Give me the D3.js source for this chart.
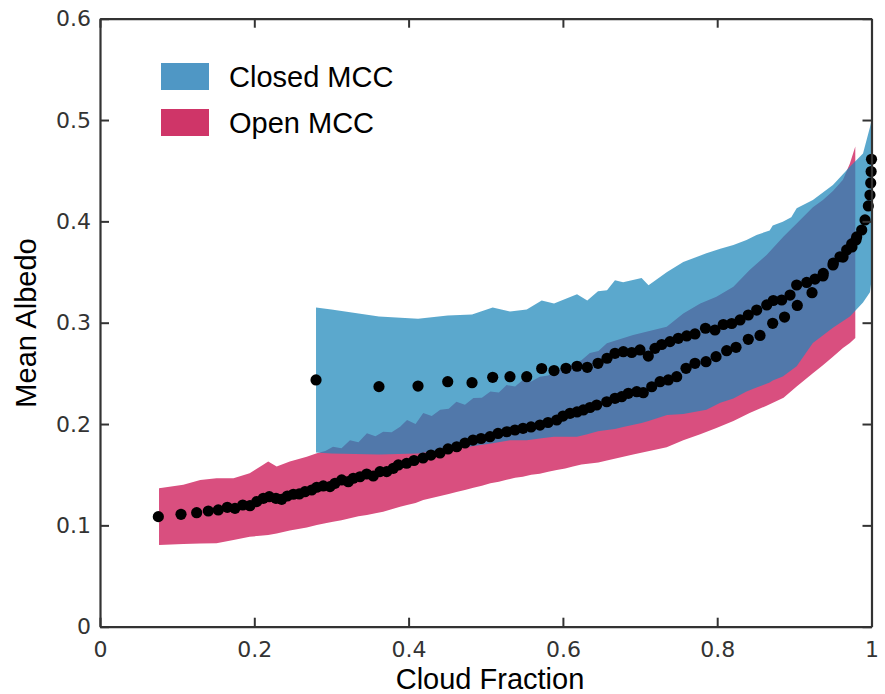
<!DOCTYPE html>
<html><head><meta charset="utf-8">
<script src="https://cdn.jsdelivr.net/npm/d3@7"></script>
<style>body{margin:0;background:#fff}svg{display:block}</style>
</head><body>
<svg id="c" width="885" height="694"></svg>
<script>
// ---------- data ----------
const xTicks = [0, 0.2, 0.4, 0.6, 0.8, 1];
const xTickLabels = ["0", "0.2", "0.4", "0.6", "0.8", "1"];
const yTicks = [0, 0.1, 0.2, 0.3, 0.4, 0.5, 0.6];
const yTickLabels = ["0", "0.1", "0.2", "0.3", "0.4", "0.5", "0.6"];
const seriesNames = ["Closed MCC", "Open MCC"];

// Open MCC band (mean ± spread)
const openBandX  = [0.0765,0.108,0.13,0.151,0.173,0.194,0.211,0.218,0.229,0.246,0.268,0.281,0.292,0.302,0.313,0.324,0.335,0.346,0.357,0.367,0.378,0.389,0.398,0.409,0.419,0.43,0.441,0.452,0.462,0.473,0.484,0.495,0.506,0.517,0.527,0.538,0.548,0.559,0.570,0.581,0.592,0.603,0.613,0.624,0.635,0.646,0.657,0.691,0.7345,0.756,0.778,0.799,0.821,0.842,0.864,0.886,0.903,0.924,0.937,0.950,0.963,0.972,0.979];
const openHigh   = [0.1366,0.140,0.1448,0.1465,0.1465,0.1514,0.1596,0.163,0.158,0.163,0.1678,0.1711,0.1735,0.1776,0.176,0.184,0.182,0.1908,0.188,0.1924,0.192,0.1974,0.204,0.200,0.211,0.208,0.214,0.215,0.222,0.219,0.2257,0.226,0.232,0.231,0.2385,0.237,0.2435,0.242,0.2467,0.248,0.2533,0.254,0.260,0.263,0.270,0.272,0.2797,0.2879,0.296,0.309,0.319,0.3257,0.3355,0.352,0.3668,0.385,0.398,0.414,0.421,0.430,0.441,0.457,0.474];
const openLow    = [0.0806,0.0816,0.082,0.0823,0.0856,0.0888,0.090,0.0905,0.092,0.095,0.098,0.1004,0.102,0.1036,0.105,0.107,0.109,0.1102,0.112,0.1135,0.116,0.1184,0.120,0.122,0.125,0.127,0.129,0.131,0.133,0.135,0.137,0.139,0.1415,0.143,0.145,0.147,0.148,0.150,0.151,0.153,0.1546,0.156,0.158,0.160,0.161,0.162,0.164,0.170,0.177,0.184,0.190,0.196,0.203,0.211,0.218,0.226,0.237,0.250,0.258,0.2665,0.275,0.280,0.285];

// Closed MCC band (mean ± spread)
const closedBandX = [0.28,0.30,0.3616,0.4122,0.4507,0.4822,0.509,0.5314,0.5531,0.5725,0.5885,0.6183,0.6316,0.6455,0.6572,0.6675,0.678,0.702,0.711,0.735,0.756,0.786,0.804,0.821,0.838,0.851,0.868,0.872,0.885,0.896,0.903,0.924,0.950,0.972,0.989,0.998,1.0];
const closedHigh  = [0.315,0.313,0.306,0.304,0.307,0.308,0.315,0.311,0.313,0.322,0.319,0.328,0.322,0.331,0.332,0.342,0.340,0.344,0.337,0.350,0.360,0.3685,0.373,0.3767,0.3816,0.3866,0.391,0.396,0.3997,0.404,0.413,0.421,0.436,0.454,0.467,0.493,0.500];
const closedLow   = [0.172,0.171,0.170,0.171,0.175,0.178,0.181,0.184,0.184,0.186,0.1875,0.1875,0.190,0.193,0.194,0.195,0.197,0.201,0.203,0.209,0.210,0.214,0.221,0.2253,0.232,0.236,0.241,0.243,0.247,0.253,0.257,0.280,0.295,0.306,0.320,0.330,0.342];

// Open MCC mean albedo per cloud-fraction bin
const openX = [0.0756,0.105,0.1253,0.1404,0.1533,0.165,0.175,0.185,0.1944,0.2031,0.2117,0.2194,0.2281,0.2355,0.2428,0.2506,0.2583,0.2657,0.2744,0.2809,0.2894,0.2981,0.3046,0.3133,0.3218,0.3283,0.337,0.3457,0.3542,0.3629,0.3716,0.3802,0.3867,0.3975,0.407,0.4187,0.429,0.4407,0.4511,0.4624,0.4731,0.4835,0.4939,0.5055,0.5159,0.5272,0.5379,0.5483,0.5587,0.5703,0.5807,0.592,0.6001,0.6092,0.6183,0.6265,0.6351,0.6438,0.6568,0.6675,0.6762,0.6848,0.6957,0.7042,0.7151,0.7259,0.7366,0.7475,0.7596,0.7712,0.7855,0.7985,0.8123,0.8244,0.8403,0.8555,0.8719,0.8873,0.9038,0.9229,0.9371,0.9501,0.9631,0.9747,0.9799];
const openY = [0.1086,0.1109,0.1125,0.1142,0.1152,0.1178,0.1168,0.1201,0.1194,0.1234,0.1267,0.1283,0.1267,0.1257,0.129,0.1307,0.131,0.1332,0.1349,0.1376,0.1389,0.1382,0.1415,0.1448,0.1431,0.1465,0.148,0.1507,0.1487,0.153,0.153,0.1563,0.1596,0.1613,0.164,0.1665,0.1694,0.1714,0.1754,0.1776,0.1813,0.1842,0.1857,0.1875,0.1907,0.1924,0.1941,0.1958,0.1971,0.199,0.2015,0.204,0.2079,0.2106,0.2119,0.2139,0.2163,0.2188,0.222,0.2254,0.227,0.2303,0.2319,0.2309,0.2368,0.2418,0.2435,0.2467,0.255,0.2599,0.2615,0.2665,0.2724,0.2757,0.2836,0.2874,0.2994,0.3056,0.317,0.3296,0.3461,0.357,0.3648,0.3747,0.3816];

// Closed MCC mean albedo per cloud-fraction bin
const closedX = [0.28,0.3616,0.4122,0.4507,0.4822,0.509,0.5314,0.5531,0.5725,0.5885,0.604,0.6183,0.6316,0.6455,0.6572,0.6675,0.6783,0.6892,0.6999,0.7107,0.7194,0.7281,0.7388,0.7496,0.7605,0.7712,0.7848,0.7971,0.8079,0.8188,0.8296,0.8403,0.8512,0.8642,0.8727,0.8836,0.8944,0.903,0.916,0.9268,0.9375,0.9505,0.9592,0.9678,0.9743,0.9808,0.9873,0.9916,0.9959,0.998,0.999,0.9995,1.0];
const closedY = [0.2435,0.2369,0.2375,0.2418,0.2408,0.2461,0.2467,0.2467,0.2548,0.2528,0.255,0.257,0.256,0.2599,0.2649,0.2698,0.2714,0.2706,0.2731,0.2671,0.2747,0.2785,0.2813,0.2846,0.2869,0.2889,0.2945,0.2928,0.2982,0.2992,0.3027,0.3076,0.3125,0.3175,0.3219,0.3224,0.3273,0.3372,0.3397,0.3431,0.3486,0.3589,0.3651,0.3718,0.3777,0.3846,0.3915,0.4014,0.4152,0.426,0.4379,0.4492,0.4613];

// ---------- chart ----------
const svg = d3.select("#c");
const x = d3.scaleLinear().domain([0, 1]).range([100, 871.5]);
const y = d3.scaleLinear().domain([0, 0.6]).range([626.7, 18.7]);

const area = d3.area().x(d => x(d.x)).y0(d => y(d.lo)).y1(d => y(d.hi));
const openBand = openBandX.map((v, i) => ({x: v, lo: openLow[i], hi: openHigh[i]}));
const closedBand = closedBandX.map((v, i) => ({x: v, lo: closedLow[i], hi: closedHigh[i]}));

svg.append("path").datum(openBand).attr("d", area).attr("fill", "#d94f7f");
svg.append("path").datum(closedBand).attr("d", area).attr("fill", "rgb(30,136,186)").attr("fill-opacity", 0.73);

const dots = svg.append("g");
dots.selectAll("circle.o").data(openX.map((v, i) => [v, openY[i]])).enter().append("circle")
  .attr("cx", d => x(d[0])).attr("cy", d => y(d[1])).attr("r", 5.6).attr("fill", "#000");
dots.selectAll("circle.c").data(closedX.map((v, i) => [v, closedY[i]])).enter().append("circle")
  .attr("cx", d => x(d[0])).attr("cy", d => y(d[1])).attr("r", 5.6).attr("fill", "#000");

// axes (ticks pointing inward, full frame)
function styleAxis(g) {
  g.selectAll(".domain").attr("stroke", "#333").attr("stroke-width", 2.2);
  g.selectAll(".tick line").attr("stroke", "#333").attr("stroke-width", 2);
  g.selectAll(".tick text").attr("fill", "#333").attr("font-family", "DejaVu Sans").attr("font-size", 22);
}
svg.append("g").attr("transform", `translate(0,${y(0)})`)
  .call(d3.axisBottom(x).tickValues(xTicks).tickFormat((d, i) => xTickLabels[i]).tickSizeInner(-9).tickSizeOuter(0).tickPadding(15))
  .call(styleAxis);
svg.append("g").attr("transform", `translate(0,${y(0.6)})`)
  .call(d3.axisTop(x).tickValues(xTicks).tickFormat("").tickSizeInner(-9).tickSizeOuter(0))
  .call(styleAxis);
svg.append("g").attr("transform", `translate(${x(0)},0)`)
  .call(d3.axisLeft(y).tickValues(yTicks).tickFormat((d, i) => yTickLabels[i]).tickSizeInner(-9).tickSizeOuter(0).tickPadding(9))
  .call(styleAxis);
svg.append("g").attr("transform", `translate(${x(1)},0)`)
  .call(d3.axisRight(y).tickValues(yTicks).tickFormat("").tickSizeInner(-9).tickSizeOuter(0))
  .call(styleAxis);

// axis titles
svg.append("text").attr("x", 490).attr("y", 689).attr("text-anchor", "middle")
  .attr("font-family", "Liberation Sans, Arial, sans-serif").attr("font-size", 29).attr("fill", "#000")
  .text("Cloud Fraction");
svg.append("text").attr("transform", "translate(36,323) rotate(-90)").attr("text-anchor", "middle")
  .attr("font-family", "Liberation Sans, Arial, sans-serif").attr("font-size", 29).attr("fill", "#000")
  .text("Mean Albedo");

// legend
const legendColors = ["#4f97c5", "#cf3568"];
const leg = svg.append("g");
seriesNames.forEach((name, i) => {
  leg.append("rect").attr("x", 161).attr("y", 63 + i * 46).attr("width", 48).attr("height", 27).attr("fill", legendColors[i]);
  leg.append("text").attr("x", 229).attr("y", 87 + i * 46)
    .attr("font-family", "Liberation Sans, Arial, sans-serif").attr("font-size", 29).attr("fill", "#000")
    .text(name);
});
</script>
</body></html>
